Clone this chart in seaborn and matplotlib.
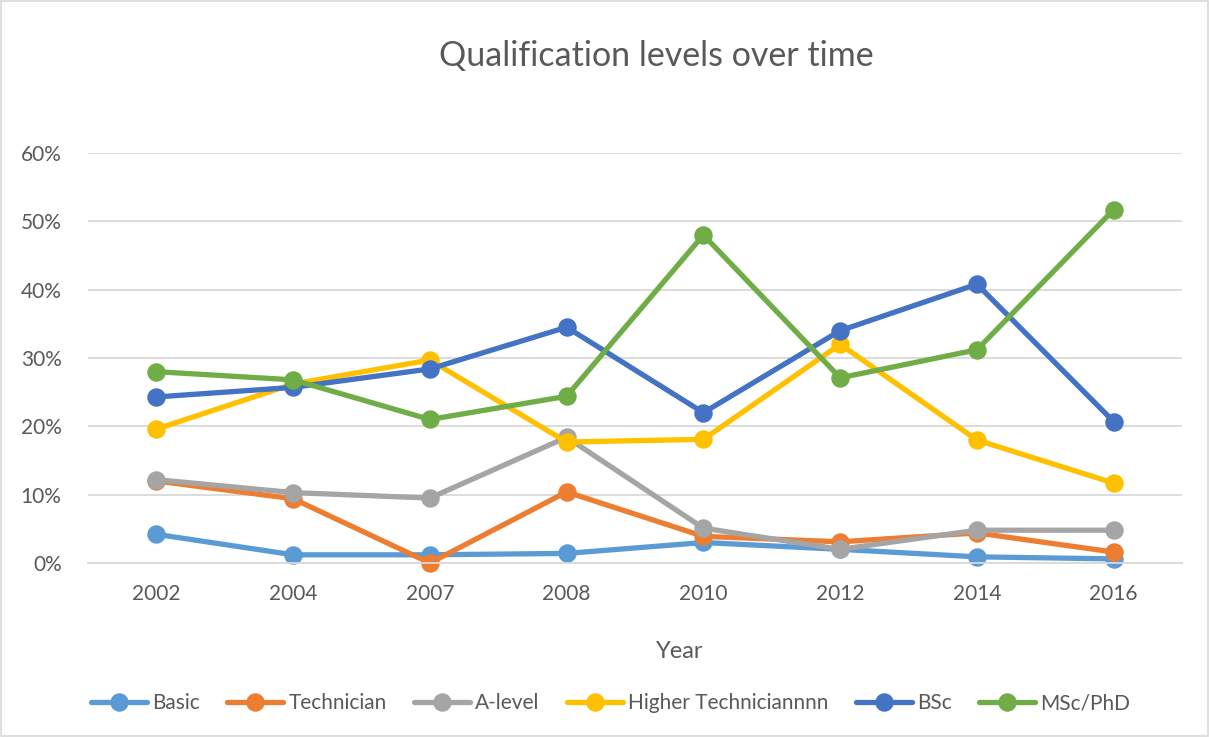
import matplotlib
matplotlib.use("Agg")
import matplotlib.pyplot as plt
from matplotlib.patches import Rectangle
from matplotlib.ticker import FixedLocator, PercentFormatter
import pandas as pd
import seaborn as sns

# Data (fractions)
YEARS = ["2002", "2004", "2007", "2008", "2010", "2012", "2014", "2016"]
LEVELS = ["Basic", "Technician", "A-level", "Higher Techniciannnn", "BSc", "MSc/PhD"]

basic = [0.042, 0.012, 0.012, 0.014, 0.030, 0.020, 0.009, 0.006]
technician = [0.120, 0.094, 0.000, 0.104, 0.039, 0.031, 0.044, 0.016]
a_level = [0.122, 0.103, 0.095, 0.184, 0.051, 0.020, 0.048, 0.048]
higher_tech = [0.196, 0.262, 0.297, 0.177, 0.181, 0.320, 0.180, 0.117]
bsc = [0.243, 0.257, 0.284, 0.345, 0.220, 0.340, 0.408, 0.207]
msc_phd = [0.280, 0.268, 0.210, 0.244, 0.480, 0.271, 0.312, 0.517]

COLORS = ["#5B9BD5", "#ED7D31", "#A5A5A5", "#FFC000", "#4472C4", "#70AD47"]
TEXT = "#595959"
GRID = "#D9D9D9"

series = [basic, technician, a_level, higher_tech, bsc, msc_phd]
df = pd.DataFrame(
    [(y, lvl, v) for lvl, vals in zip(LEVELS, series) for y, v in zip(YEARS, vals)],
    columns=["year", "level", "share"],
)

sns.set_theme(style="white")
plt.rcParams["font.family"] = ["Lato", "DejaVu Sans"]

fig = plt.figure(figsize=(12.09, 7.37), dpi=100)
ax = fig.add_axes([0.0728, 0.2361, 0.9049, 0.5563])

sns.pointplot(data=df, x="year", y="share", hue="level", order=YEARS,
              hue_order=LEVELS, palette=COLORS, markers="o", linewidth=3.7,
              markersize=10.5, errorbar=None, ax=ax)
for ln in ax.lines:
    ln.set_clip_on(False)
    ln.set_linewidth(3.8)
    ln.set_solid_capstyle("round")

ax.set_xlim(-0.5, len(YEARS) - 0.5)
ax.set_ylim(0, 0.6)
ax.yaxis.set_major_locator(FixedLocator([0, 0.1, 0.2, 0.3, 0.4, 0.5, 0.6]))
ax.yaxis.set_major_formatter(PercentFormatter(1.0, decimals=0))
ax.grid(axis="y", color=GRID, linewidth=1.3)
ax.set_axisbelow(True)

for side in ["left", "right", "top"]:
    ax.spines[side].set_visible(False)
ax.spines["bottom"].set_color(GRID)
ax.spines["bottom"].set_linewidth(1.3)

# category boundaries as tick marks, labels centred in bands
ax.set_xticks(range(len(YEARS)))
ax.set_xticklabels(YEARS)
ax.set_xticks([i - 0.5 for i in range(len(YEARS) + 1)], minor=True)
ax.tick_params(axis="x", which="major", length=0, pad=15, labelsize=15, labelcolor=TEXT)
ax.tick_params(axis="x", which="minor", length=6, width=1.3, color=GRID, direction="out")
ax.tick_params(axis="y", length=0, pad=19, labelsize=15, labelcolor=TEXT)

ax.set_xlabel("Year", fontsize=17, color=TEXT)
ax.xaxis.set_label_coords(0.541, -0.215)
ax.xaxis.label.set_va("center")
ax.set_ylabel("")
fig.text(0.543, 0.924, "Qualification levels over time", ha="center", va="center",
         fontsize=24.5, color=TEXT)

handles, labels = ax.get_legend_handles_labels()
ax.get_legend().remove()
for h in handles:
    h.set_linewidth(3.8)
fig.legend(handles, labels, loc="center", bbox_to_anchor=(0.505, 0.046), ncol=6,
           frameon=False, fontsize=15, handlelength=2.7, handletextpad=0.25,
           columnspacing=1.3, labelcolor=TEXT)

fig.patches.append(Rectangle((0.001, 0.001), 0.998, 0.998, transform=fig.transFigure,
                             fill=False, edgecolor=GRID, linewidth=1.2))

fig.savefig("out.png", dpi=100)
